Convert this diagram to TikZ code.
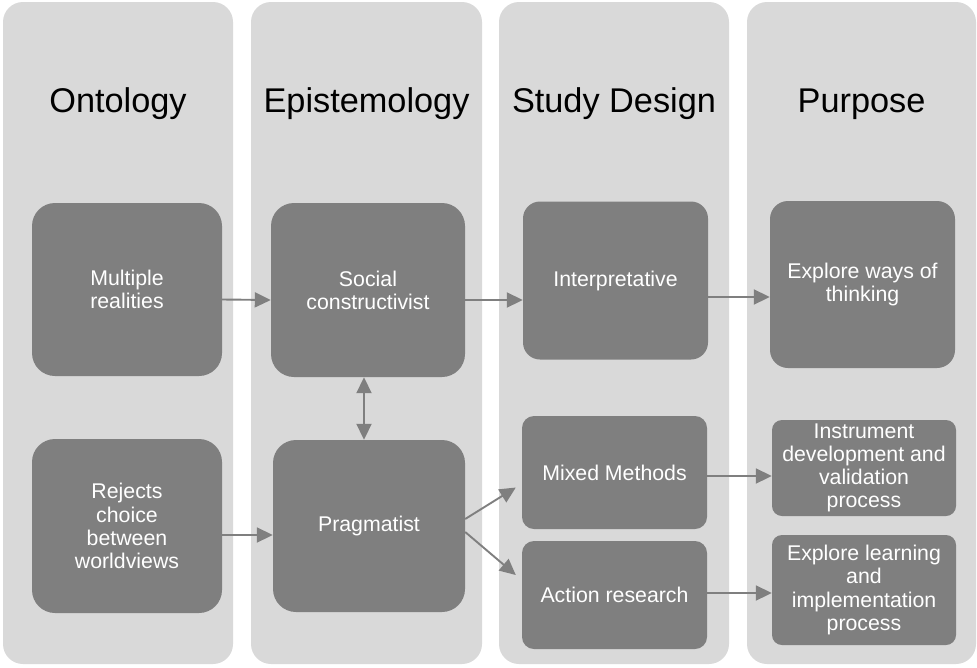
\documentclass[tikz,border=0pt]{standalone}
\usepackage{fontspec}
\setmainfont{Liberation Sans}
\usetikzlibrary{arrows.meta}
\definecolor{colgray}{HTML}{D9D9D9}
\definecolor{boxgray}{HTML}{7F7F7F}
\tikzset{
  column/.style={fill=colgray, draw=none, rounded corners=20pt, inner sep=0pt},
  header/.style={font=\fontsize{34.3}{40}\selectfont, text=black, anchor=base, inner sep=0pt},
  dbox/.style={fill=boxgray, draw=none, text=white, align=center, inner sep=0pt,
    font=\fontsize{21.3}{23.2}\selectfont},
  arr/.style={draw=boxgray, line width=1.9pt, -{Triangle[length=16pt,width=15pt]}},
  darr/.style={draw=boxgray, line width=1.9pt, {Triangle[length=16pt,width=15pt]}-{Triangle[length=16pt,width=15pt]}}
}
\begin{document}
\begin{tikzpicture}[x=1pt,y=-1pt]
\useasboundingbox (0,0) rectangle (977,667);
% columns
\node[column, minimum width=230pt, minimum height=662pt] (c1) at (118,333) {};
\node[column, minimum width=231pt, minimum height=662pt] (c2) at (366.5,333) {};
\node[column, minimum width=230pt, minimum height=662pt] (c3) at (614,333) {};
\node[column, minimum width=229pt, minimum height=662pt] (c4) at (861.5,333) {};
% headers
\node[header] (h1) at (118,112) {Ontology};
\node[header] (h2) at (366.5,112) {Epistemology};
\node[header] (h3) at (614,112) {Study Design};
\node[header] (h4) at (861.5,112) {Purpose};
% boxes
\node[dbox, rounded corners=23pt, minimum width=190pt, minimum height=173pt] (mr) at (127,289.5) {Multiple\\realities};
\node[dbox, rounded corners=23pt, minimum width=190pt, minimum height=174pt] (rc) at (127,526) {Rejects\\choice\\between\\worldviews};
\node[dbox, rounded corners=23pt, minimum width=194pt, minimum height=174pt] (sc) at (368,290) {Social\\constructivist};
\node[dbox, rounded corners=23pt, minimum width=192pt, minimum height=172pt] (pr) at (369,526) {Pragmatist};
\node[dbox, rounded corners=17pt, minimum width=185pt, minimum height=158pt] (in) at (615.5,280.5) {Interpretative};
\node[dbox, rounded corners=12pt, minimum width=185pt, minimum height=113pt] (mm) at (614.5,472.5) {Mixed Methods};
\node[dbox, rounded corners=12pt, minimum width=185pt, minimum height=108pt] (ar) at (614.5,595) {Action research};
\node[dbox, rounded corners=18pt, minimum width=185pt, minimum height=167pt] (ew) at (862.5,284.5) {Explore ways of\\thinking};
\node[dbox, rounded corners=10pt, minimum width=184pt, minimum height=96pt] (id) at (864,468) {Instrument\\development and\\validation\\process};
\node[dbox, rounded corners=10pt, minimum width=184pt, minimum height=110pt] (el) at (864,590) {Explore learning\\and\\implementation\\process};
% connectors
\draw[arr] ([yshift=-10pt]mr.east) -- ([yshift=-10pt]sc.west);
\draw[arr] ([yshift=-9pt]rc.east) -- ([yshift=-9pt]pr.west);
\draw[arr] ([yshift=-10pt]sc.east) -- ([yshift=-19.5pt]in.west);
\draw[arr] ([yshift=-16.5pt]in.east) -- ([yshift=-12.5pt]ew.west);
\draw[darr] ([xshift=-4pt]sc.south) -- ([xshift=-5pt]pr.north);
\draw[arr] ([yshift=7pt]pr.east) -- ([xshift=-6pt,yshift=-15pt]mm.west);
\draw[arr] ([yshift=-6pt]pr.east) -- ([xshift=-6pt,yshift=20pt]ar.west);
\draw[arr] ([yshift=-3.5pt]mm.east) -- ([yshift=-8pt]id.west);
\draw[arr] ([yshift=2pt]ar.east) -- ([yshift=-3pt]el.west);
\end{tikzpicture}
\end{document}
